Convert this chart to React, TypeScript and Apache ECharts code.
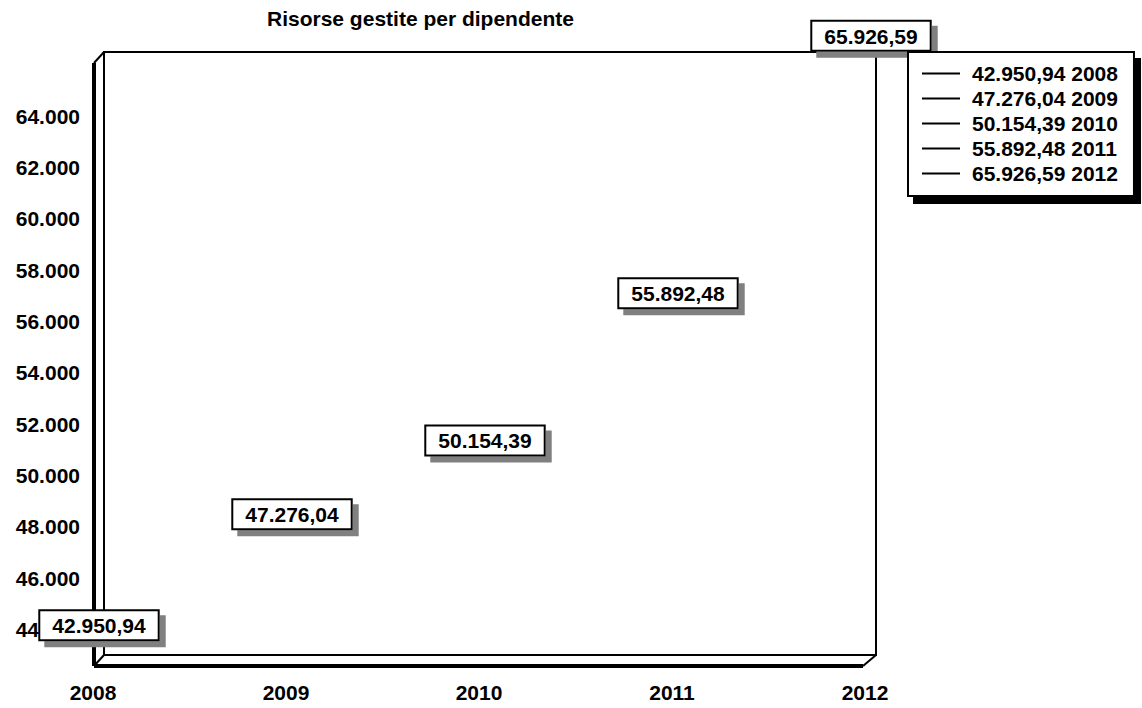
import React, { useEffect, useRef } from "react";
import * as echarts from "echarts";

const TITLE = "Risorse gestite per dipendente";
const YEARS = ["2008", "2009", "2010", "2011", "2012"];
const VALUES = [42950.94, 47276.04, 50154.39, 55892.48, 65926.59];
const Y_MIN = 43000;
const Y_MAX = 66500;
const Y_STEP = 1000;
const Y_LABEL_STEP = 2000;
const Y_LABEL_MAX = 64000;
const Y_CUT_LABEL = 44000; // partly hidden behind the 2008 data label in the reference

const W = 1142;
const H = 708;
const FONT = "'Liberation Sans', Arial, sans-serif";

function fmtInt(n: number): string {
  const s = Math.round(n).toString();
  return s.replace(/\B(?=(\d{3})+(?!\d))/g, ".");
}
function fmtDec(n: number): string {
  const [i, d] = n.toFixed(2).split(".");
  return fmtInt(Number(i)) + "," + d;
}

export default function App() {
  const ref = useRef<HTMLDivElement>(null);
  useEffect(() => {
    if (!ref.current) return;
    const chart = echarts.init(ref.current, null, { renderer: "svg" });
    const L = 104, T = 52, R = 876, B = 655;
    const DX = 10, DY = 11;
    const series = VALUES.map((v, i) => ({
      type: "line",
      name: `${fmtDec(v)} ${YEARS[i]}`,
      data: VALUES.map((vv, j) => (j === i ? vv : null)),
      clip: false,
      symbol: "circle",
      symbolSize: 0,
      itemStyle: { color: "#000" },
      lineStyle: { color: "#000", width: 2 },
      label: {
        show: true,
        position: "top",
        distance: 17,
        offset: [-5, 0],
        formatter: (p: any) => fmtDec(p.value),
        fontFamily: FONT,
        fontSize: 21,
        fontWeight: "bold",
        color: "#000",
        backgroundColor: "#fff",
        borderColor: "#000",
        borderWidth: 2,
        padding: [4, 12, 3, 12],
        shadowColor: "#808080",
        shadowOffsetX: 6,
        shadowOffsetY: 6,
        shadowBlur: 0,
      },
    }));
    chart.setOption({
      animation: false,
      backgroundColor: "#fff",
      title: {
        text: TITLE,
        left: 267,
        top: 8,
        padding: 0,
        textStyle: { fontFamily: FONT, fontSize: 21, fontWeight: "bold", color: "#000" },
      },
      legend: {
        orient: "vertical",
        left: 908,
        top: 52,
        backgroundColor: "#fff",
        borderColor: "#000",
        borderWidth: 2,
        borderRadius: 0,
        padding: [11, 16, 12, 14],
        itemGap: 4,
        itemWidth: 38,
        itemHeight: 2,
        icon: "rect",
        selectedMode: false,
        shadowColor: "#000",
        shadowOffsetX: 6,
        shadowOffsetY: 7,
        shadowBlur: 0,
        itemStyle: { color: "#000" },
        textStyle: {
          fontFamily: FONT,
          fontSize: 21,
          fontWeight: "bold",
          color: "#000",
          lineHeight: 21,
          padding: [0, 0, 0, 7],
        },
      },
      grid: {
        left: L,
        top: T,
        width: R - L,
        height: B - T,
        show: true,
        borderColor: "#000",
        borderWidth: 2,
        backgroundColor: "#fff",
      },
      xAxis: {
        type: "category",
        data: YEARS,
        boundaryGap: false,
        axisLine: { show: false },
        axisTick: { show: false },
        splitLine: { show: false },
        axisLabel: {
          margin: 27,
          fontFamily: FONT,
          fontSize: 21,
          fontWeight: "bold",
          color: "#000",
          padding: [0, 22, 0, 0],
        },
      },
      yAxis: {
        type: "value",
        min: Y_MIN,
        max: Y_MAX,
        interval: Y_STEP,
        axisLine: { show: false },
        axisTick: { show: false },
        splitLine: { show: false },
        axisLabel: {
          margin: 24,
          fontFamily: FONT,
          fontSize: 21,
          fontWeight: "bold",
          color: "#000",
          rich: {
            cut: {
              fontFamily: FONT,
              fontSize: 21,
              fontWeight: "bold",
              color: "#000",
              padding: [0, 41, 0, 0],
            },
          },
          formatter: (v: number) => {
            if (v % Y_LABEL_STEP !== 0 || v > Y_LABEL_MAX) return "";
            if (v === Y_CUT_LABEL) return `{cut|${fmtInt(v).split(".")[0]}}`;
            return fmtInt(v);
          },
        },
      },
      graphic: [
        {
          type: "line",
          shape: { x1: L - DX, y1: T + DY, x2: L - DX, y2: B + DY },
          style: { stroke: "#000", lineWidth: 4 },
        },
        {
          type: "line",
          shape: { x1: L - DX, y1: T + DY, x2: L, y2: T },
          style: { stroke: "#000", lineWidth: 2 },
        },
        {
          type: "line",
          shape: { x1: L - DX, y1: B + DY, x2: L, y2: B },
          style: { stroke: "#000", lineWidth: 2 },
        },
        {
          type: "line",
          shape: { x1: L - DX, y1: B + DY, x2: R - DX - 3, y2: B + DY },
          style: { stroke: "#000", lineWidth: 4 },
        },
        {
          type: "line",
          shape: { x1: R - DX - 3, y1: B + DY, x2: R, y2: B },
          style: { stroke: "#000", lineWidth: 2 },
        },
      ],
      series,
    });
    return () => chart.dispose();
  }, []);
  return (
    <div
      ref={ref}
      style={{ position: "fixed", left: 0, top: 0, width: W, height: H, background: "#fff" }}
    />
  );
}
